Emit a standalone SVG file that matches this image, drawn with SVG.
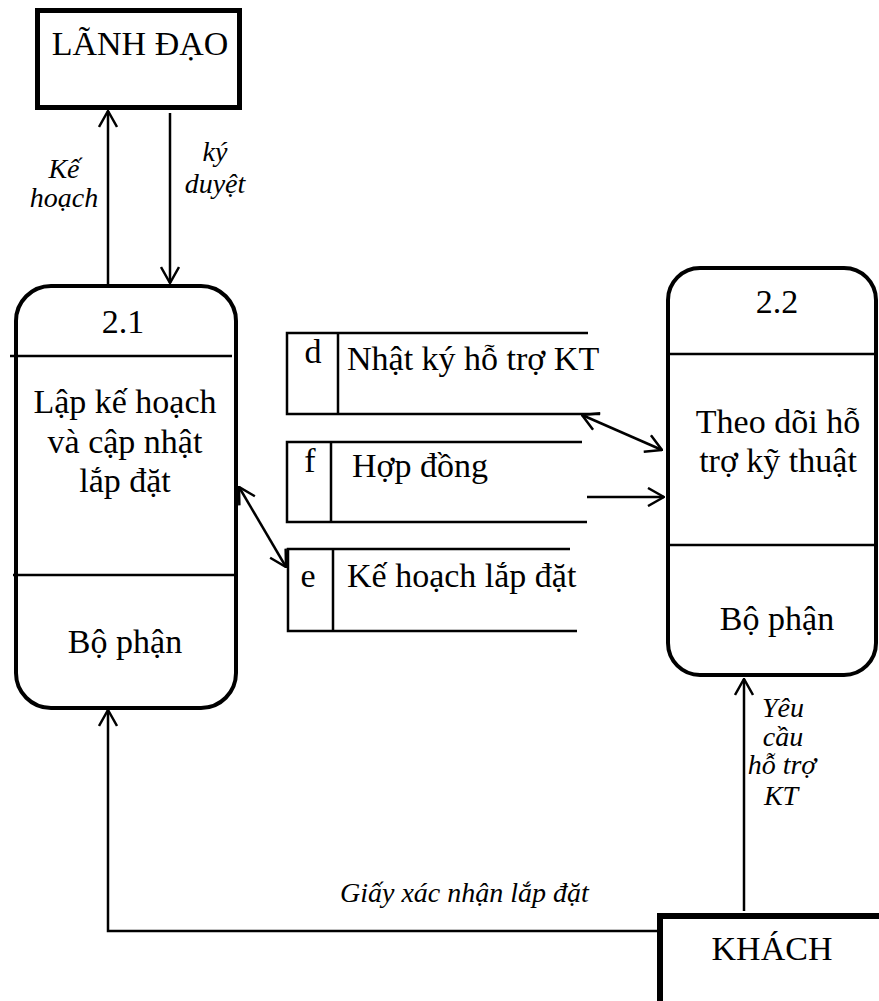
<svg xmlns="http://www.w3.org/2000/svg" width="879" height="1001" viewBox="0 0 879 1001">
<defs>
<marker id="arr" viewBox="0 0 18 20" refX="17" refY="10" markerWidth="18" markerHeight="20" markerUnits="userSpaceOnUse" orient="auto-start-reverse">
<path d="M1,1 L17,10 L1,19" fill="none" stroke="#000" stroke-width="2.5"/>
</marker>
<style>
.t{font-family:"Liberation Serif","Times New Roman",serif;font-size:34px;fill:#000}
.i{font-family:"Liberation Serif","Times New Roman",serif;font-size:28px;font-style:italic;fill:#000}
.m{text-anchor:middle}
.ent{fill:#fff;stroke:#000}
.proc{fill:#fff;stroke:#000;stroke-width:4}
.div{stroke:#000;stroke-width:2.5;fill:none}
.st{stroke:#000;stroke-width:2.5;fill:none}
.fl{stroke:#000;stroke-width:2.5;fill:none}
</style>
</defs>
<rect width="879" height="1001" fill="#fff"/>

<g id="connectors">
<path class="fl" d="M108,284 V111" marker-end="url(#arr)"/>
<path class="fl" d="M170,113 V283" marker-end="url(#arr)"/>
<path class="fl" d="M582,415 L662,450" marker-start="url(#arr)" marker-end="url(#arr)"/>
<path class="fl" d="M587,497 H664" marker-end="url(#arr)"/>
<path class="fl" d="M239,487 L286,567" marker-start="url(#arr)" marker-end="url(#arr)"/>
<path class="fl" d="M744,911 V679" marker-end="url(#arr)"/>
<path class="fl" d="M657,931 H108 V710" marker-end="url(#arr)"/>
<text class="i m" x="64" y="178">Kế</text>
<text class="i m" x="64" y="207">hoạch</text>
<text class="i m" x="215" y="161">ký</text>
<text class="i m" x="215" y="193">duyệt</text>
<text class="i m" x="783" y="717">Yêu</text>
<text class="i m" x="783" y="746">cầu</text>
<text class="i m" x="782" y="774">hỗ trợ</text>
<text class="i m" x="781" y="805">KT</text>
<text class="i" x="340" y="902">Giấy xác nhận lắp đặt</text>
</g>

<g id="lanhdao">
<rect class="ent" x="37.5" y="10.5" width="202" height="97" stroke-width="5"/>
<text class="t m" x="140" y="55">LÃNH ĐẠO</text>
</g>

<g id="p21">
<rect class="proc" x="16" y="286" width="220" height="422" rx="35" ry="35"/>
<line class="div" x1="10" y1="356" x2="232" y2="356"/>
<line class="div" x1="13" y1="575" x2="234" y2="575"/>
<text class="t m" x="123" y="333">2.1</text>
<text class="t m" x="125" y="413">Lập kế hoạch</text>
<text class="t m" x="125" y="453">và  cập nhật</text>
<text class="t m" x="125" y="492">lắp đặt</text>
<text class="t m" x="125" y="653">Bộ phận</text>
</g>

<g id="p22">
<rect class="proc" x="668" y="268" width="208" height="407" rx="32" ry="32"/>
<line class="div" x1="668" y1="354" x2="876" y2="354"/>
<line class="div" x1="668" y1="545" x2="876" y2="545"/>
<text class="t m" x="777" y="313">2.2</text>
<text class="t m" x="778" y="433">Theo dõi hỗ</text>
<text class="t m" x="778" y="472">trợ kỹ thuật</text>
<text class="t m" x="777" y="630">Bộ phận</text>
</g>

<g id="store-d">
<path class="st" d="M588,333 H287 V414 H600 M338,333 V414"/>
<text class="t m" x="313" y="363">d</text>
<text class="t" x="347" y="370">Nhật ký hỗ trợ KT</text>
</g>

<g id="store-f">
<path class="st" d="M582,442 H287 V522 H587 M331,442 V522"/>
<text class="t m" x="310" y="472">f</text>
<text class="t" x="352" y="477">Hợp đồng</text>
</g>

<g id="store-e">
<path class="st" d="M570,549 H288 V631 H577 M333,549 V631"/>
<text class="t m" x="308" y="587">e</text>
<text class="t" x="347" y="587">Kế hoạch lắp đặt</text>
</g>

<g id="khach">
<rect class="ent" x="660" y="916" width="240" height="110" stroke-width="6"/>
<text class="t m" x="772" y="960">KHÁCH</text>
</g>
</svg>
